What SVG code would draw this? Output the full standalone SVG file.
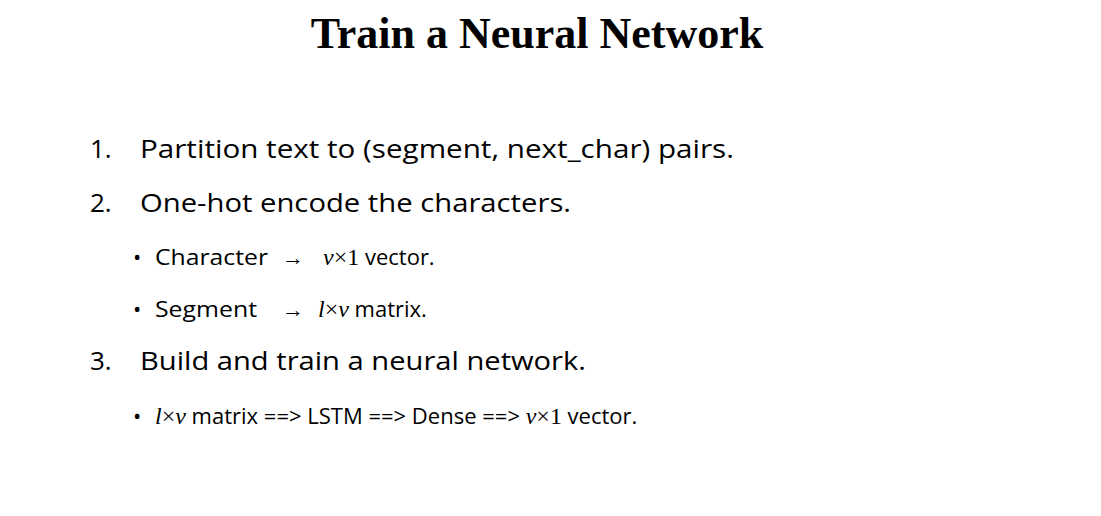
<svg xmlns="http://www.w3.org/2000/svg" width="1101" height="516" viewBox="0 0 1101 516">
<style>
.t{font-family:"Liberation Serif",serif;font-weight:bold;font-size:44px;fill:#000}
.l{font-family:"Open Sans","Liberation Sans",sans-serif;font-size:26px;fill:#000}
.s{font-family:"Open Sans","Liberation Sans",sans-serif;font-size:22px;fill:#000}
.m{font-family:"Liberation Serif",serif;font-style:italic;font-size:24px}
.x{font-family:"Liberation Serif",serif;font-size:24px}
</style>
<rect width="1101" height="516" fill="#fff"/>
<text class="t" x="537" y="48" text-anchor="middle">Train a Neural Network</text>
<text class="l" x="90" y="158">1.</text>
<text class="l" x="140" y="158" textLength="594" lengthAdjust="spacingAndGlyphs">Partition text to (segment, next_char) pairs.</text>
<text class="l" x="90" y="212">2.</text>
<text class="l" x="140" y="212" textLength="431" lengthAdjust="spacingAndGlyphs">One-hot encode the characters.</text>
<text class="s" x="133" y="265">•</text>
<text class="s" x="155" y="265" textLength="113" lengthAdjust="spacingAndGlyphs">Character</text>
<text class="s" x="282" y="265">→</text>
<text class="s" x="323" y="265"><tspan class="m">v</tspan><tspan class="x">×1</tspan> vector.</text>
<text class="s" x="133" y="317">•</text>
<text class="s" x="155" y="317" textLength="102" lengthAdjust="spacingAndGlyphs">Segment</text>
<text class="s" x="282" y="317">→</text>
<text class="s" x="318" y="317"><tspan class="m">l</tspan><tspan class="x">×</tspan><tspan class="m">v</tspan> matrix.</text>
<text class="l" x="90" y="370">3.</text>
<text class="l" x="140" y="370" textLength="446" lengthAdjust="spacingAndGlyphs">Build and train a neural network.</text>
<text class="s" x="133" y="424">•</text>
<text class="s" x="155" y="424"><tspan class="m">l</tspan><tspan class="x">×</tspan><tspan class="m">v</tspan> matrix ==&gt; LSTM ==&gt; Dense ==&gt; <tspan class="m">v</tspan><tspan class="x">×1</tspan> vector.</text>
</svg>
